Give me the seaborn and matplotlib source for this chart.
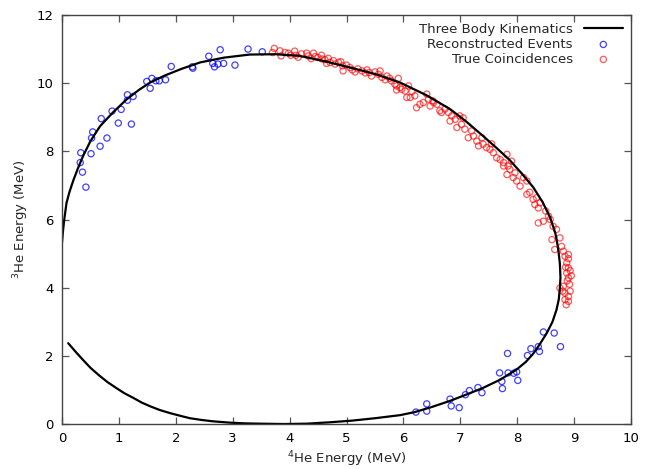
import matplotlib
matplotlib.use('Agg')
import matplotlib.pyplot as plt
import seaborn as sns

# kinematic locus (4He energy, 3He energy)
curve_x = [0.11, 0.25, 0.37, 0.50, 0.65, 0.80, 0.96, 1.10, 1.25, 1.40, 1.55, 1.72,
           1.90, 2.08, 2.25, 2.45, 2.65, 2.95, 3.20, 3.50, 3.90, 4.30, 4.70, 5.10,
           5.50, 5.94, 6.20, 6.50, 6.82, 7.10, 7.40, 7.70, 7.99, 8.15, 8.28, 8.40,
           8.52, 8.62, 8.69, 8.73, 8.75, 8.76, 8.75, 8.72, 8.67, 8.58, 8.45, 8.28,
           8.08, 7.87, 7.65, 7.40, 7.10, 6.82, 6.40, 5.94, 5.50, 5.06, 4.60, 4.18,
           3.75, 3.30, 2.85, 2.43, 2.10, 1.80, 1.55, 1.35, 1.14, 0.90, 0.67, 0.50,
           0.37, 0.28, 0.20, 0.13, 0.08, 0.04, 0.02, 0.00]
curve_y = [2.37, 2.10, 1.88, 1.65, 1.43, 1.23, 1.05, 0.90, 0.77, 0.63, 0.52, 0.41,
           0.32, 0.24, 0.17, 0.12, 0.08, 0.04, 0.02, 0.01, 0.00, 0.01, 0.05, 0.10,
           0.17, 0.26, 0.35, 0.50, 0.68, 0.86, 1.06, 1.30, 1.60, 1.82, 2.06, 2.35,
           2.67, 3.00, 3.35, 3.65, 4.00, 4.30, 4.70, 5.15, 5.60, 6.05, 6.50, 6.95,
           7.35, 7.74, 8.08, 8.45, 8.88, 9.24, 9.65, 10.02, 10.27, 10.46, 10.65, 10.80,
           10.85, 10.84, 10.75, 10.61, 10.42, 10.22, 10.02, 9.80, 9.53, 9.15, 8.74, 8.30,
           7.86, 7.50, 7.15, 6.80, 6.49, 6.00, 5.70, 5.32]

# reconstructed events (blue)
reco_x = [0.33, 0.32, 0.36, 0.42, 0.51, 0.54, 0.52, 0.67, 0.79, 0.69, 0.88, 0.99,
          1.04, 1.22, 1.15, 1.15, 1.25, 1.49, 1.55, 1.58, 1.65, 1.71, 1.82, 1.92,
          2.29, 2.30, 2.58, 2.65, 2.68, 2.74, 2.78, 2.84, 3.04, 3.27, 3.52,
          6.22, 6.41, 6.41, 6.82, 6.84, 6.98, 7.09, 7.16, 7.31, 7.38, 7.69, 7.73,
          7.74, 7.83, 7.84, 7.94, 7.99, 8.01, 8.18, 8.24, 8.37, 8.39, 8.46, 8.65, 8.76]
reco_y = [7.96, 7.67, 7.39, 6.95, 7.93, 8.57, 8.39, 8.15, 8.39, 8.96, 9.18, 8.83,
          9.23, 8.80, 9.66, 9.50, 9.61, 10.05, 9.85, 10.14, 10.07, 10.07, 10.10, 10.49,
          10.48, 10.44, 10.79, 10.58, 10.48, 10.56, 10.98, 10.58, 10.53, 11.00, 10.92,
          0.35, 0.38, 0.59, 0.73, 0.53, 0.48, 0.86, 0.98, 1.07, 0.92, 1.50, 1.25,
          1.04, 2.07, 1.50, 1.49, 1.53, 1.28, 2.01, 2.21, 2.27, 2.13, 2.70, 2.67, 2.27]

# true coincidences (red)
true_x = [3.73, 3.70, 3.83, 3.85, 3.92, 3.98, 4.02, 4.09, 4.11, 4.21, 4.30, 4.33,
          4.42, 4.45, 4.50, 4.56, 4.57, 4.62, 4.68, 4.71, 4.77, 4.80, 4.86, 4.90,
          4.93, 4.94, 5.00, 5.06, 5.10, 5.15, 5.27, 5.36, 5.40, 5.44, 5.50, 5.56,
          5.59, 5.62, 5.71, 5.76, 5.79, 5.85, 5.88, 5.94,
          5.91, 5.88, 5.97, 6.03, 6.09, 6.12, 6.06, 6.20, 6.23, 6.29, 6.35, 6.41,
          6.44, 6.47, 6.53, 6.59, 6.64, 6.67, 6.73, 6.79, 6.82, 6.85, 6.91, 6.94,
          6.99, 7.02, 7.08, 7.14, 7.20, 7.23, 7.29, 7.32, 7.38, 7.40, 7.46, 7.52,
          7.58, 7.64, 7.70, 7.76, 7.82, 7.84, 7.90,
          7.76, 7.82, 7.87, 7.93, 7.96, 7.99, 8.05, 8.11, 8.17, 8.17, 8.28, 8.31,
          8.34, 8.37, 8.40, 8.37, 8.46, 8.55, 8.58, 8.63, 8.69, 8.61, 8.75, 8.78,
          8.66, 8.81, 8.84, 8.90, 8.87, 8.90, 8.87, 8.90, 8.81, 8.75, 8.84, 8.90,
          8.90, 8.84, 8.92, 8.88, 8.93, 8.85, 8.93, 8.86, 8.80, 8.90, 8.95,
          4.15, 4.38, 4.65, 5.20, 5.33, 5.68, 6.15, 6.52, 7.05, 7.55, 8.22, 8.50]
true_y = [11.02, 10.90, 10.95, 10.80, 10.90, 10.88, 10.82, 10.94, 10.82, 10.86, 10.88, 10.80,
          10.88, 10.78, 10.75, 10.82, 10.71, 10.69, 10.73, 10.61, 10.66, 10.56, 10.61, 10.63,
          10.51, 10.36, 10.53, 10.46, 10.39, 10.33, 10.36, 10.39, 10.31, 10.21, 10.33, 10.26,
          10.36, 10.17, 10.21, 10.14, 10.07, 9.97, 9.80, 9.87,
          10.14, 9.92, 9.82, 9.77, 9.92, 9.58, 9.58, 9.63, 9.28, 9.38, 9.43, 9.68,
          9.53, 9.33, 9.43, 9.38, 9.19, 9.14, 9.24, 9.14, 8.89, 9.04, 8.94, 8.70,
          9.04, 8.79, 8.65, 8.40, 8.60, 8.45, 8.30, 8.16, 8.40, 8.21, 8.11, 8.06,
          7.96, 7.81, 7.76, 7.67, 7.91, 7.57, 7.71,
          7.57, 7.32, 7.47, 7.23, 7.37, 7.13, 6.98, 7.23, 7.13, 6.74, 6.59, 6.44,
          6.64, 6.34, 6.49, 5.90, 5.95, 6.10, 6.00, 5.80, 5.71, 5.41, 5.46, 5.21,
          5.12, 5.07, 4.92, 4.97, 4.73, 4.58, 4.43, 4.29, 4.04, 3.99, 3.84, 3.74,
          3.60, 3.65, 4.10, 4.20, 4.50, 4.60, 3.90, 3.50, 3.90, 4.85, 4.35,
          10.76, 10.72, 10.58, 10.42, 10.30, 10.10, 9.75, 9.48, 8.98, 8.22, 6.80, 6.25]

sns.set_theme(style='white')
plt.rcParams['font.family'] = ['DejaVu Sans']
plt.rcParams['mathtext.fontset'] = 'dejavusans'

fig = plt.figure(figsize=(6.49, 4.69), dpi=100)
ax = fig.add_axes([0.0955, 0.0959, 0.8768, 0.8721])

sns.lineplot(x=curve_x, y=curve_y, sort=False, estimator=None, color='black',
             linewidth=1.6, label='Three Body Kinematics', ax=ax)
sns.scatterplot(x=reco_x, y=reco_y, marker='o', s=20, facecolors='none',
                edgecolor='blue', linewidth=0.9, alpha=0.75,
                label='Reconstructed Events', ax=ax)
sns.scatterplot(x=true_x, y=true_y, marker='o', s=20, facecolors='none',
                edgecolor='red', linewidth=0.9, alpha=0.65,
                label='True Coincidences', ax=ax)
ax.lines[0].set_solid_joinstyle('round')

ax.set_xlim(0, 10)
ax.set_ylim(0, 12)
ax.set_xticks(range(0, 11))
ax.set_yticks(range(0, 13, 2))
ax.tick_params(direction='in', length=5, width=0.9, color='#555555',
               top=True, right=True, bottom=True, left=True,
               labelsize=9.5, pad=6, labelcolor='black')
for sp in ax.spines.values():
    sp.set_color('#444444')
    sp.set_linewidth(1.0)

ax.set_xlabel(r'$^{4}$He Energy (MeV)', fontsize=9.5, labelpad=3)
ax.set_ylabel(r'$^{3}$He Energy (MeV)', fontsize=9.5, labelpad=4)

leg = ax.legend(loc='upper right', markerfirst=False, frameon=False,
                fontsize=9.5, handlelength=3.0, labelspacing=0.15,
                borderaxespad=0.2, handletextpad=0.8)

plt.savefig('out.png', dpi=100)
